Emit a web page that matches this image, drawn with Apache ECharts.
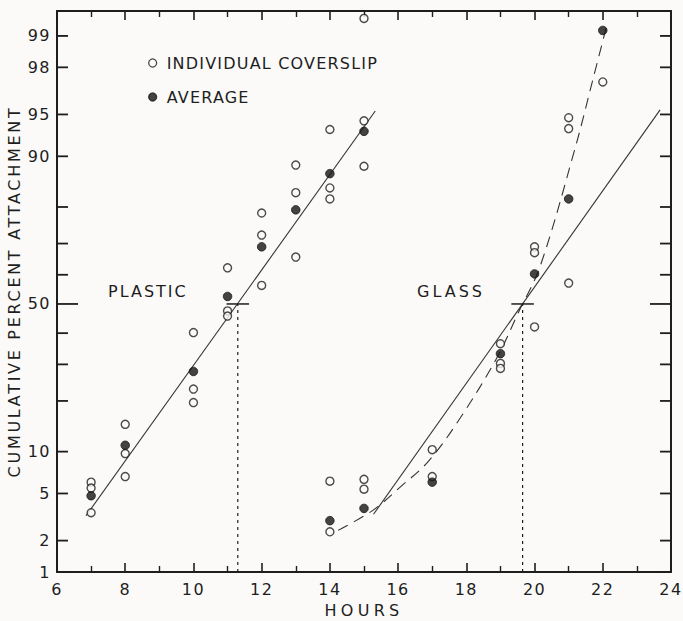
<!DOCTYPE html>
<html><head><meta charset="utf-8">
<script src="https://cdn.jsdelivr.net/npm/echarts@6/dist/echarts.min.js"></script>
<style>html,body{margin:0;padding:0;background:#fbfaf8}#chart{width:683px;height:621px}</style>
</head><body><div id="chart"></div>
<script>
// ---------- data (hours, cumulative percent) ----------
const yLabelPercents = [1, 2, 5, 10, 50, 90, 95, 98, 99];
const yTickPercents = [1, 2, 5, 10, 20, 30, 40, 50, 60, 70, 80, 90, 95, 98, 99];
const yRangePercents = [1, 99.45];
const xRangeHours = [6, 24];

const plasticIndHours = [7, 7, 7, 8, 8, 8, 10, 10, 10, 11, 11, 11, 12, 12, 12, 13, 13, 13, 14, 14, 14, 15, 15, 15];
const plasticIndPct   = [6.1, 5.5, 3.5, 14.8, 9.7, 6.7, 40.2, 23.0, 19.6, 62.3, 47.6, 45.8, 78.5, 72.5, 56.4, 88.6, 83.3, 65.8, 93.5, 84.3, 81.9, 99.34, 94.4, 88.4];
const plasticAvgHours = [7, 8, 10, 11, 12, 13, 14, 15];
const plasticAvgPct   = [4.8, 11.0, 27.9, 52.6, 69.0, 79.3, 87.1, 93.3];

const glassIndHours = [14, 14, 15, 15, 17, 17, 19, 19, 19, 20, 20, 20, 21, 21, 21, 22];
const glassIndPct   = [6.2, 2.4, 6.4, 5.4, 10.3, 6.7, 36.5, 30.3, 28.8, 69.0, 67.2, 42.1, 94.7, 93.6, 57.2, 97.3];
const glassAvgHours = [14, 15, 17, 19, 20, 21, 22];
const glassAvgPct   = [3.0, 3.8, 6.1, 33.3, 60.3, 81.9, 99.12];

// fitted straight lines (end points)
const plasticFitHours = [6.85, 15.33];
const plasticFitPct   = [3.3, 95.3];
const glassFitHours   = [15.28, 23.68];
const glassFitPct     = [3.4, 95.4];
// dashed curve through glass data
const glassCurveHours = [14.24, 15.27, 16.06, 16.88, 17.82, 18.90, 19.52, 20.16, 21.19, 21.72, 22.13];
const glassCurvePct   = [2.47, 3.68, 5.6, 8.56, 16.1, 32.1, 46.9, 62.7, 91.2, 97.5, 99.25];
// 50 % crossing times
const plastic50Hour = 11.3;
const glass50Hour = 19.65;

// ---------- probit scale ----------
function probit(p){
  const a=[-3.969683028665376e+01,2.209460984245205e+02,-2.759285104469687e+02,1.383577518672690e+02,-3.066479806614716e+01,2.506628277459239e+00];
  const b=[-5.447609879822406e+01,1.615858368580409e+02,-1.556989798598866e+02,6.680131188771972e+01,-1.328068155288572e+01];
  const c=[-7.784894002430293e-03,-3.223964580411365e-01,-2.400758277161838e+00,-2.549732539343734e+00,4.374664141464968e+00,2.938163982698783e+00];
  const d=[7.784695709041462e-03,3.224671290700398e-01,2.445134137142996e+00,3.754408661907416e+00];
  const pl=0.02425, ph=1-pl; let q,r;
  if(p<pl){q=Math.sqrt(-2*Math.log(p));return (((((c[0]*q+c[1])*q+c[2])*q+c[3])*q+c[4])*q+c[5])/((((d[0]*q+d[1])*q+d[2])*q+d[3])*q+1);}
  if(p<=ph){q=p-0.5;r=q*q;return (((((a[0]*r+a[1])*r+a[2])*r+a[3])*r+a[4])*r+a[5])*q/(((((b[0]*r+b[1])*r+b[2])*r+b[3])*r+b[4])*r+1);}
  q=Math.sqrt(-2*Math.log(1-p));return -(((((c[0]*q+c[1])*q+c[2])*q+c[3])*q+c[4])*q+c[5])/((((d[0]*q+d[1])*q+d[2])*q+d[3])*q+1);
}
const Z = pct => probit(pct / 100);
const pairs = (hs, ps) => hs.map((h, i) => [h, Z(ps[i])]);

const INK = '#1e1e1e';
const BG = '#fbfaf8';
const FONT = 'DejaVu Sans';
const YMIN = Z(yRangePercents[0]), YMAX = Z(yRangePercents[1]);

const labelFmt = v => {
  const i = yLabelPercents.findIndex(p => Math.abs(Z(p) - v) < 1e-6);
  return i >= 0 ? String(yLabelPercents[i]) : '';
};

const yBase = {
  type: 'value', min: YMIN, max: YMAX, splitLine: {show: false},
  axisLine: {show: true, lineStyle: {color: INK, width: 2}},
  axisTick: {show: false}
};
const xBase = {
  type: 'value', min: xRangeHours[0], max: xRangeHours[1], interval: 2,
  splitLine: {show: false},
  axisLine: {show: true, onZero: false, lineStyle: {color: INK, width: 2}},
  axisTick: {show: true, inside: true, length: 9, lineStyle: {color: INK, width: 1.6}},
  minorTick: {show: true, splitNumber: 2, length: 6, lineStyle: {color: INK, width: 1.4}},
};

// probability-scale ticks on both vertical frame edges, placed through the y axis scale
function renderYTick(params, api) {
  const cs = params.coordSys;
  const y = api.coord([api.value(0), api.value(1)])[1];
  const len = Math.abs(api.value(1)) < 1e-9 ? 21 : 11;
  const st = {stroke: INK, lineWidth: 1.8};
  return {type: 'group', children: [
    {type: 'line', shape: {x1: cs.x, y1: y, x2: cs.x + len, y2: y}, style: st},
    {type: 'line', shape: {x1: cs.x + cs.width, y1: y, x2: cs.x + cs.width - len, y2: y}, style: st}
  ]};
}

const chart = echarts.init(document.getElementById('chart'), null, {renderer: 'svg'});
chart.setOption({
  animation: false,
  backgroundColor: BG,
  textStyle: {fontFamily: FONT},
  grid: {left: 57, right: 12, top: 11, bottom: 49, outerBoundsMode: 'none'},
  legend: {
    data: ['INDIVIDUAL COVERSLIP', 'AVERAGE'],
    orient: 'vertical', left: 143, top: 50, itemGap: 18,
    itemWidth: 8, itemHeight: 8, selectedMode: false,
    itemStyle: {borderWidth: 1.3},
    textStyle: {fontSize: 16, color: INK, fontFamily: FONT, padding: [0, 0, 0, 5]}
  },
  xAxis: [
    Object.assign({}, xBase, {
      position: 'bottom',
      axisLabel: {fontSize: 16, color: INK, margin: 9, fontFamily: FONT},
      name: 'HOURS', nameLocation: 'middle', nameGap: 30,
      nameTextStyle: {fontSize: 16, color: INK, fontFamily: FONT}
    }),
    Object.assign({}, xBase, {position: 'top', axisLabel: {show: false}})
  ],
  yAxis: [
    Object.assign({}, yBase, {
      position: 'left',
      axisLabel: {show: true, customValues: yLabelPercents.map(Z), formatter: labelFmt, fontSize: 16, color: INK, margin: 6, fontFamily: FONT},
      name: 'CUMULATIVE PERCENT ATTACHMENT', nameLocation: 'middle', nameGap: 35, nameMoveOverlap: false,
      nameTextStyle: {fontSize: 16, color: INK, fontFamily: FONT}
    }),
    Object.assign({}, yBase, {position: 'right', axisLabel: {show: false}})
  ],
  graphic: [
    {type: 'text', left: 108, top: 283, style: {text: 'PLASTIC', fontSize: 16, fill: INK, fontFamily: FONT}},
    {type: 'text', left: 417, top: 283, style: {text: 'GLASS', fontSize: 16, fill: INK, fontFamily: FONT}}
  ],
  series: [
    {type: 'custom', renderItem: renderYTick, silent: true, clip: false, z: 3,
     data: yTickPercents.map(p => [xRangeHours[0], Z(p)])},
    {type: 'line', data: pairs(plasticFitHours, plasticFitPct), symbol: 'none', silent: true, z: 2,
     lineStyle: {color: '#333', width: 1.1}},
    {type: 'line', data: pairs(glassFitHours, glassFitPct), symbol: 'none', silent: true, z: 2,
     lineStyle: {color: '#333', width: 1.1}},
    {type: 'line', data: pairs(glassCurveHours, glassCurvePct), symbol: 'none', silent: true, z: 2, smooth: 0.35,
     lineStyle: {color: '#333', width: 1.1, type: [11, 7]}},
    {type: 'line', data: pairs([plastic50Hour - 0.33, plastic50Hour + 0.33], [50, 50]), symbol: 'none', silent: true, z: 2,
     lineStyle: {color: INK, width: 1.5}},
    {type: 'line', data: pairs([glass50Hour - 0.33, glass50Hour + 0.33], [50, 50]), symbol: 'none', silent: true, z: 2,
     lineStyle: {color: INK, width: 1.5}},
    {type: 'line', data: pairs([plastic50Hour, plastic50Hour], [yRangePercents[0], 50]), symbol: 'none', silent: true, z: 2,
     lineStyle: {color: INK, width: 1.2, type: [3, 4]}},
    {type: 'line', data: pairs([glass50Hour, glass50Hour], [yRangePercents[0], 50]), symbol: 'none', silent: true, z: 2,
     lineStyle: {color: INK, width: 1.2, type: [3, 4]}},
    {name: 'INDIVIDUAL COVERSLIP', type: 'scatter', data: pairs(plasticIndHours, plasticIndPct), symbol: 'circle', symbolSize: 8, silent: true, z: 5,
     itemStyle: {color: BG, borderColor: INK, borderWidth: 1.4}},
    {name: 'INDIVIDUAL COVERSLIP', type: 'scatter', data: pairs(glassIndHours, glassIndPct), symbol: 'circle', symbolSize: 8, silent: true, z: 5,
     itemStyle: {color: BG, borderColor: INK, borderWidth: 1.4}},
    {name: 'AVERAGE', type: 'scatter', data: pairs(plasticAvgHours, plasticAvgPct), symbol: 'circle', symbolSize: 8.5, silent: true, z: 6,
     itemStyle: {color: '#151515', borderColor: '#151515', borderWidth: 1}},
    {name: 'AVERAGE', type: 'scatter', data: pairs(glassAvgHours, glassAvgPct), symbol: 'circle', symbolSize: 8.5, silent: true, z: 6,
     itemStyle: {color: '#151515', borderColor: '#151515', borderWidth: 1}}
  ]
});

// letter spacing of the widely spaced lettering
const spacing = {
  'CUMULATIVE PERCENT ATTACHMENT': 2.7, 'HOURS': 4.3, 'PLASTIC': 2, 'GLASS': 3,
  'INDIVIDUAL COVERSLIP': 1.2, 'AVERAGE': 1.2
};
function applySpacing(){
  document.querySelectorAll('#chart svg text').forEach(t => {
    const s = t.textContent.trim();
    const ls = spacing[s] !== undefined ? spacing[s] : (/^\d+$/.test(s) ? 1.5 : 0);
    if (ls) t.setAttribute('letter-spacing', ls + 'px');
  });
}
applySpacing();
chart.on('finished', applySpacing);
</script></body></html>
